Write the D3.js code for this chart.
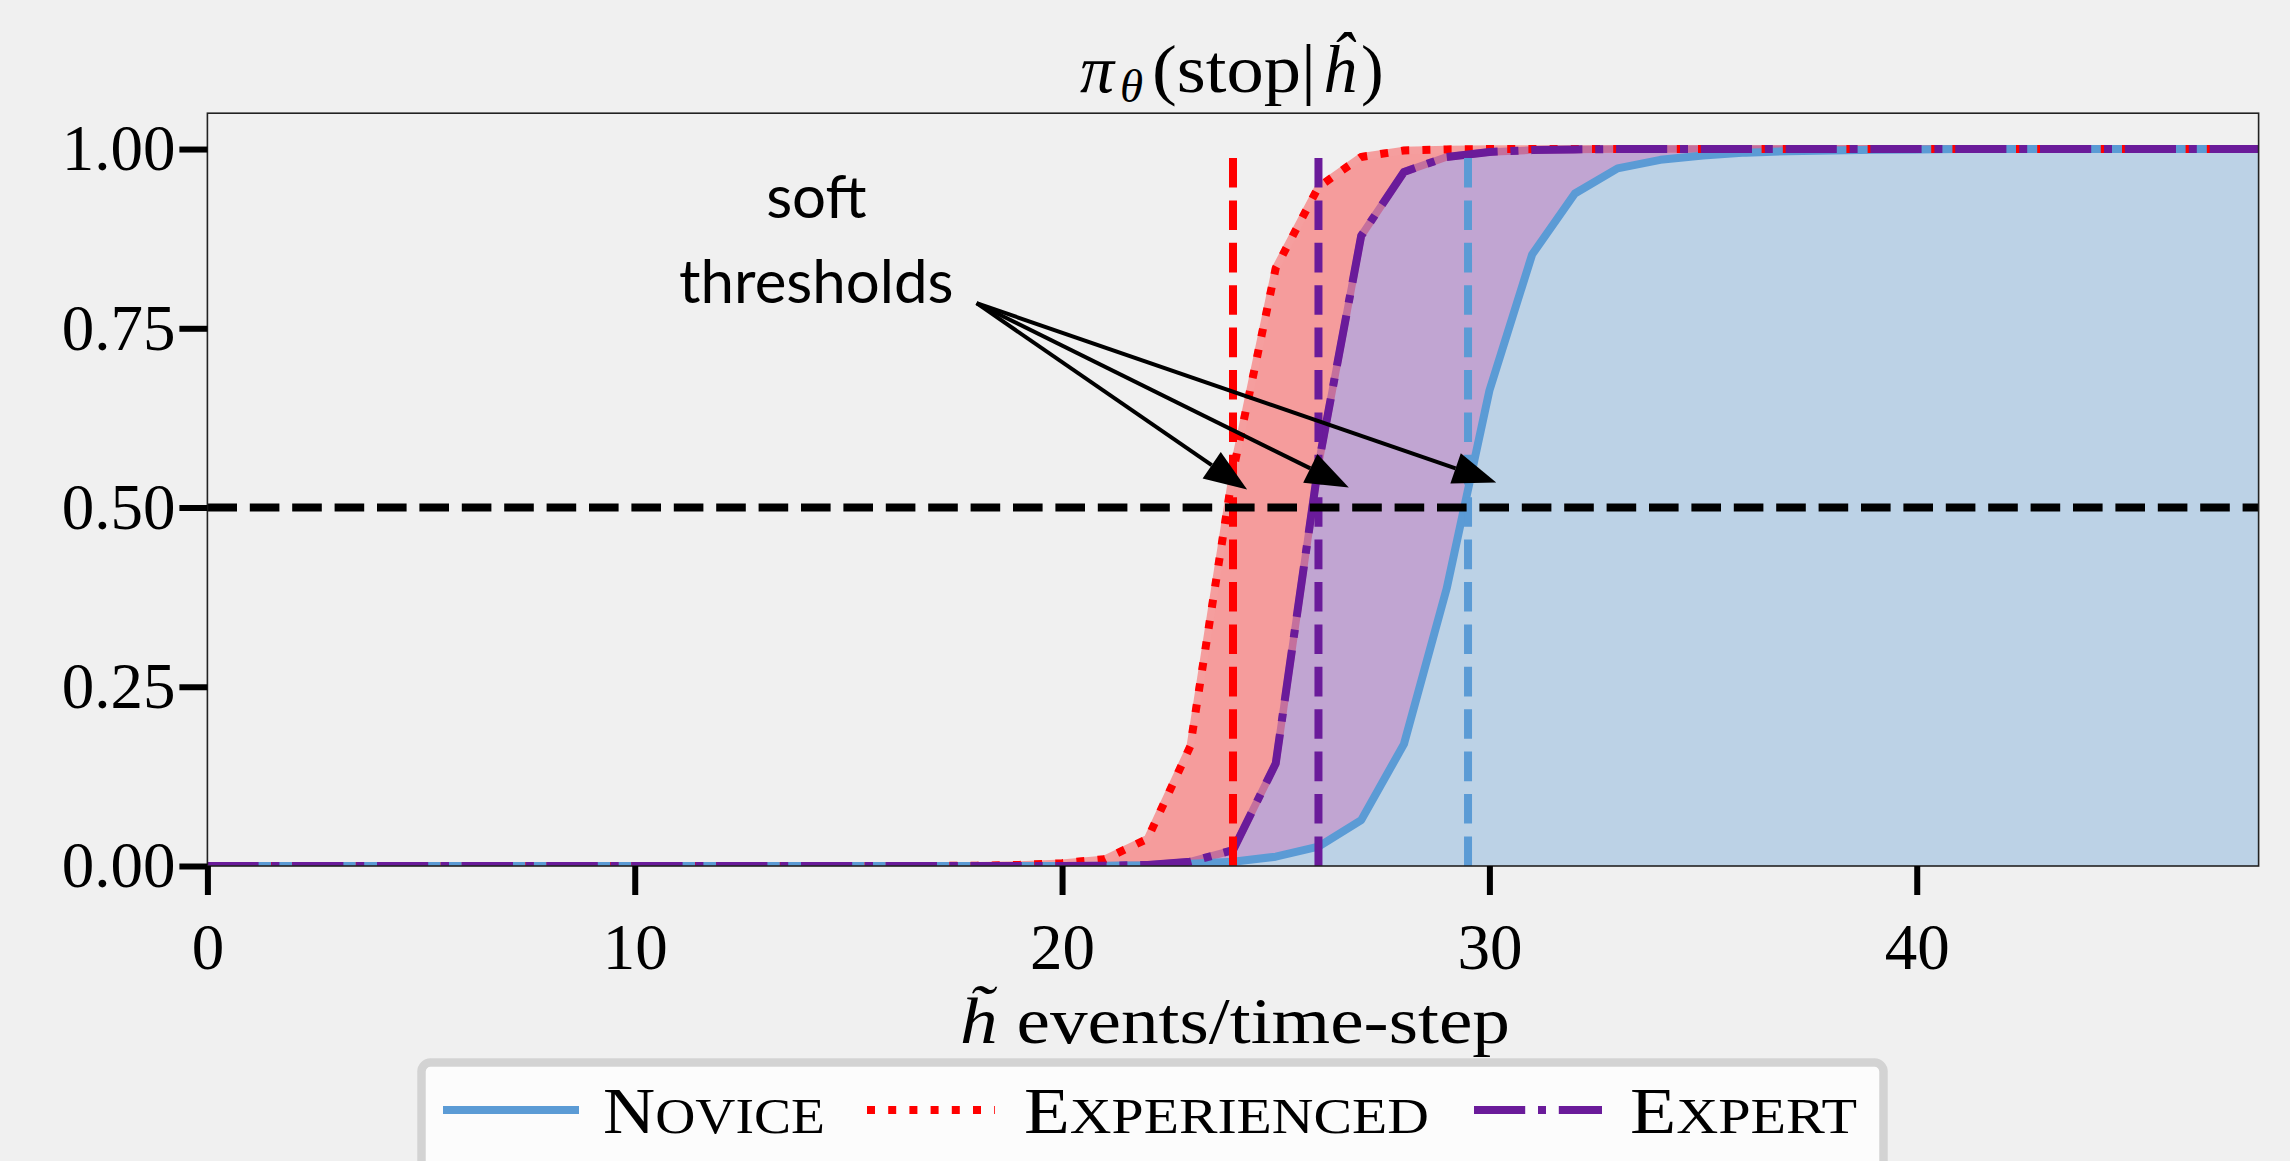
<!DOCTYPE html>
<html>
<head>
<meta charset="utf-8">
<script src="https://cdn.jsdelivr.net/npm/d3@7"></script>
<style>
  html, body { margin: 0; padding: 0; background: #f0f0f0; }
  svg { display: block; }
</style>
</head>
<body>
<svg id="chart" width="2290" height="1161"></svg>
<script>
// Data ///////////////////////////////////////////////////////////////////

var STEPS = [0, 1, 2, 3, 4, 5, 6, 7, 8, 9, 10, 11, 12, 13, 14, 15, 16, 17, 18, 19, 20, 21, 22, 23, 24,
  25, 26, 27, 28, 29, 30, 31, 32, 33, 34, 35, 36, 37, 38, 39, 40, 41, 42, 43, 44, 45, 46, 47, 48];

var NOVICE = [0, 0, 0, 0, 0, 0, 0, 0, 0, 0, 0, 0, 0, 0, 0, 0, 0, 0, 0, 0, 0,
  0.0005, 0.001, 0.003, 0.006, 0.013, 0.027, 0.064, 0.170, 0.387, 0.663, 0.853, 0.938, 0.973,
  0.985, 0.991, 0.995, 0.997, 0.998, 0.999, 0.9995, 1, 1, 1, 1, 1, 1, 1, 1];

var EXPERIENCED = [0, 0, 0, 0, 0, 0, 0, 0, 0, 0, 0, 0, 0, 0, 0, 0, 0, 0,
  0.0005, 0.0015, 0.004, 0.0095, 0.038, 0.167, 0.550, 0.834, 0.947, 0.989, 0.998, 0.9995,
  1, 1, 1, 1, 1, 1, 1, 1, 1, 1, 1, 1, 1, 1, 1, 1, 1, 1, 1];

var EXPERT = [0, 0, 0, 0, 0, 0, 0, 0, 0, 0, 0, 0, 0, 0, 0, 0, 0, 0, 0, 0, 0,
  0.0005, 0.0015, 0.006, 0.022, 0.143, 0.560, 0.879, 0.968, 0.989, 0.996, 0.9985, 0.9995,
  1, 1, 1, 1, 1, 1, 1, 1, 1, 1, 1, 1, 1, 1, 1, 1];

var SERIES = ['Novice', 'Experienced', 'Expert'];
var THRESHOLDS = [29.5, 24, 26];                                     // soft threshold per series
var X_TICKS = [0, 10, 20, 30, 40];
var Y_TICKS = [0, 0.25, 0.5, 0.75, 1];
var ANNOT_LINES = ['soft', 'thresholds'];
var ANNOT_TEXT_AT = [14.25, 0.904];                                  // first baseline, data coords
var ANNOT_TAIL = [18, 0.785];
var ANNOT_TIPS = [[24.33, 0.525], [26.71, 0.528], [30.16, 0.535]];

// Look //////////////////////////////////////////////////////////////////////////////////////////

var COLORS = ['#5b9bd5', '#ff0000', '#6a1b9a'];
var LW = 8;                                                          // line width in px
var DASHES = ['none', (LW * 1) + ',' + (LW * 1.65), (LW * 6.4) + ',' + (LW * 1.6) + ',' + LW + ',' + (LW * 1.6)];
var DASHED = (LW * 3.7) + ',' + (LW * 1.6);
var SERIF = "'Liberation Serif', 'Times New Roman', serif";

var geom = {left: 207.4, right: 2258.6, top: 113.2, bottom: 866};

var svg = d3.select('#chart');
svg.append('rect').attr('width', 2290).attr('height', 1161).attr('fill', '#f0f0f0');

// Scales ////////////////////////////////////////////////////////////////////////////////////////

var x = d3.scaleLinear().domain([0, 48]).range([geom.left, geom.right]);
var y = d3.scaleLinear().domain([0, 1.05]).range([geom.bottom, geom.top]);

var rows = STEPS.map(function(s, i) {
  return {x: s, novice: NOVICE[i], experienced: EXPERIENCED[i], expert: EXPERT[i]};
});
var keys = ['novice', 'experienced', 'expert'];

svg.append('clipPath').attr('id', 'plotclip').append('rect')
  .attr('x', geom.left).attr('y', geom.top)
  .attr('width', geom.right - geom.left).attr('height', geom.bottom - geom.top);

var plot = svg.append('g').attr('clip-path', 'url(#plotclip)');

// Bands between the curves //////////////////////////////////////////////////////////////////////

function band(lo, hi) {
  return d3.area()
    .x(function(d) { return x(d.x) })
    .y0(function(d) { return y(lo ? d[lo] : 0) })
    .y1(function(d) { return y(d[hi]) });
}
plot.append('path').datum(rows).attr('d', band('expert', 'experienced'))
  .attr('fill', COLORS[1]).attr('fill-opacity', 0.35);
plot.append('path').datum(rows).attr('d', band('novice', 'expert'))
  .attr('fill', COLORS[2]).attr('fill-opacity', 0.35);
plot.append('path').datum(rows).attr('d', band(null, 'novice'))
  .attr('fill', COLORS[0]).attr('fill-opacity', 0.35);

// Curves ////////////////////////////////////////////////////////////////////////////////////////

function curve(k) {
  return d3.line().x(function(d) { return x(d.x) }).y(function(d) { return y(d[k]) });
}
// band edges showing through the gaps of the patterned lines
plot.append('path').datum(rows).attr('d', curve('experienced'))
  .attr('fill', 'none').attr('stroke', '#f59e9e').attr('stroke-width', LW - 0.5);
plot.append('path').datum(rows).attr('d', curve('expert'))
  .attr('fill', 'none').attr('stroke', '#c4709d').attr('stroke-width', LW - 0.5);

keys.forEach(function(k, i) {
  plot.append('path').datum(rows).attr('d', curve(k))
    .attr('fill', 'none')
    .attr('stroke', COLORS[i])
    .attr('stroke-width', LW)
    .attr('stroke-linejoin', 'round')
    .attr('stroke-dasharray', DASHES[i]);
});

// threshold markers
THRESHOLDS.forEach(function(t, i) {
  plot.append('line')
    .attr('x1', x(t)).attr('x2', x(t))
    .attr('y1', y(0)).attr('y2', y(1))
    .attr('stroke', COLORS[i]).attr('stroke-width', LW)
    .attr('stroke-dasharray', DASHED);
});
plot.append('line')
  .attr('x1', x(0)).attr('x2', x(48))
  .attr('y1', y(0.5)).attr('y2', y(0.5))
  .attr('stroke', '#000').attr('stroke-width', LW)
  .attr('stroke-dasharray', DASHED);

// Frame and axes ////////////////////////////////////////////////////////////////////////////////

svg.append('rect')
  .attr('x', geom.left).attr('y', geom.top)
  .attr('width', geom.right - geom.left).attr('height', geom.bottom - geom.top)
  .attr('fill', 'none').attr('stroke', '#222').attr('stroke-width', 1.6);

var yAxis = svg.append('g').attr('transform', 'translate(' + geom.left + ',0)')
  .call(d3.axisLeft(y).tickValues(Y_TICKS).tickSize(28).tickPadding(4).tickFormat(d3.format('.2f')));
var xAxis = svg.append('g').attr('transform', 'translate(0,' + geom.bottom + ')')
  .call(d3.axisBottom(x).tickValues(X_TICKS).tickSize(29).tickPadding(28).tickFormat(d3.format('d')));

[yAxis, xAxis].forEach(function(a) {
  a.select('.domain').remove();
  a.selectAll('.tick line').attr('stroke', '#000').attr('stroke-width', 6);
  a.selectAll('.tick text').attr('fill', '#000')
    .style('font-family', SERIF).style('font-size', '65px');
});

// Annotation ////////////////////////////////////////////////////////////////////////////////////

var ann = svg.append('g');
ann.selectAll('text').data(ANNOT_LINES).enter().append('text')
  .attr('x', x(ANNOT_TEXT_AT[0]))
  .attr('y', function(d, i) { return y(ANNOT_TEXT_AT[1]) + i * 85 })
  .attr('text-anchor', 'middle')
  .style('font-family', "Lato, 'Open Sans', sans-serif").style('font-size', '60px')
  .text(function(d) { return d });

var headLen = 43, headHalf = 16;
ANNOT_TIPS.forEach(function(tip) {
  var x0 = x(ANNOT_TAIL[0]), y0 = y(ANNOT_TAIL[1]),
      x1 = x(tip[0]), y1 = y(tip[1]),
      len = Math.hypot(x1 - x0, y1 - y0),
      ux = (x1 - x0) / len, uy = (y1 - y0) / len,
      bx = x1 - ux * headLen, by = y1 - uy * headLen;
  ann.append('line')
    .attr('x1', x0).attr('y1', y0).attr('x2', bx).attr('y2', by)
    .attr('stroke', '#000').attr('stroke-width', 4);
  ann.append('path')
    .attr('d', 'M' + x1 + ',' + y1 +
      'L' + (bx - uy * headHalf) + ',' + (by + ux * headHalf) +
      'L' + (bx + uy * headHalf) + ',' + (by - ux * headHalf) + 'Z')
    .attr('fill', '#000');
});

// Title and axis label //////////////////////////////////////////////////////////////////////////

var title = svg.append('text').attr('y', 91.7)
  .style('font-family', SERIF).style('font-size', '68px');
title.append('tspan').attr('x', 1080).style('font-style', 'italic').text('π');
title.append('tspan').attr('x', 1120).attr('y', 101.5).style('font-style', 'italic')
  .style('font-size', '47px').text('θ');
title.append('tspan').attr('x', 1152).attr('y', 91.7)
  .attr('textLength', 164).attr('lengthAdjust', 'spacingAndGlyphs').text('(stop|');
title.append('tspan').attr('x', 1322).style('font-style', 'italic').text('ĥ');
title.append('tspan').attr('x', 1361).text(')');

var xlabel = svg.append('text').attr('x', 960).attr('y', 1043)
  .attr('textLength', 550).attr('lengthAdjust', 'spacingAndGlyphs')
  .style('font-family', SERIF).style('font-size', '66px');
xlabel.append('tspan').style('font-style', 'italic').text('h\u0303');
xlabel.append('tspan').text(' events/time-step');

// Legend ////////////////////////////////////////////////////////////////////////////////////////

var legend = svg.append('g');
legend.append('rect')
  .attr('x', 421.5).attr('y', 1062.5).attr('width', 1462).attr('height', 200).attr('rx', 9)
  .attr('fill', '#fcfcfc').attr('stroke', '#d3d3d3').attr('stroke-width', 8.5);

var LEG_HANDLE_X = [447, 867, 1474], LEG_TEXT_X = [603, 1024, 1630], LEG_TEXT_W = [222, 405, 227];
SERIES.forEach(function(name, i) {
  legend.append('line')
    .attr('x1', LEG_HANDLE_X[i]).attr('x2', LEG_HANDLE_X[i] + 128)
    .attr('y1', 1110).attr('y2', 1110)
    .attr('stroke', COLORS[i]).attr('stroke-width', LW)
    .attr('stroke-linecap', i === 0 ? 'square' : 'butt')
    .attr('stroke-dasharray', DASHES[i]);
  var t = legend.append('text').attr('x', LEG_TEXT_X[i]).attr('y', 1133.3)
    .attr('textLength', LEG_TEXT_W[i]).attr('lengthAdjust', 'spacingAndGlyphs')
    .style('font-family', SERIF).style('font-size', '65px');
  t.append('tspan').text(name.charAt(0).toUpperCase());
  t.append('tspan').style('font-size', '50px').text(name.slice(1).toUpperCase());
});
</script>
</body>
</html>
